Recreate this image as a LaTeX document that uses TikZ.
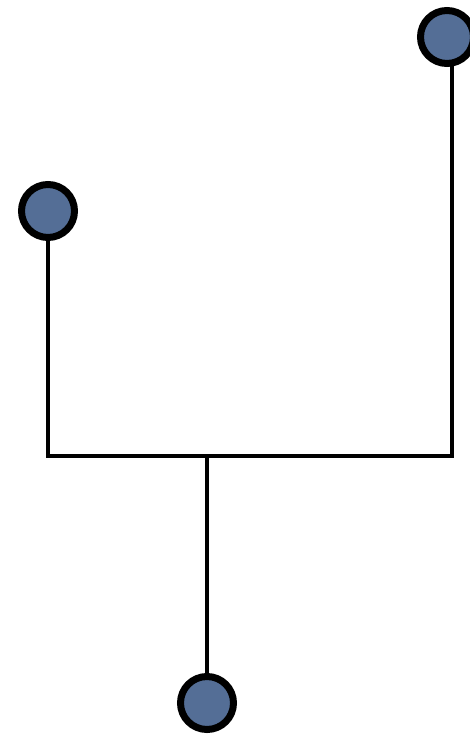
\documentclass[tikz,border=0pt]{standalone}
\usetikzlibrary{backgrounds}
\definecolor{pinblue}{RGB}{84,110,150}
\tikzset{
	pin/.style={circle, draw=black, line width=7pt, fill=pinblue, minimum size=53pt, inner sep=0pt},
	wire/.style={line width=4pt, line cap=rect}
}
\begin{document}
\begin{tikzpicture}[x=1pt, y=-1pt]
      \useasboundingbox (0,0) rectangle (470,735);
      % the three end points
      \node[pin] (top) at (447,37) {};
      \node[pin] (left) at (48,211) {};
      \node[pin] (bottom) at (207,703) {};
      \coordinate (jl) at (48,456);
      \coordinate (jr) at (452,456);
      \coordinate (jm) at (207,456);
      \begin{scope}[on background layer]
        \draw[wire] (left.center) -- (jl) -- (jr) -- (jr |- top.center);
        \draw[wire] (jm) -- (bottom.center);
      \end{scope}
    \end{tikzpicture}
\end{document}
